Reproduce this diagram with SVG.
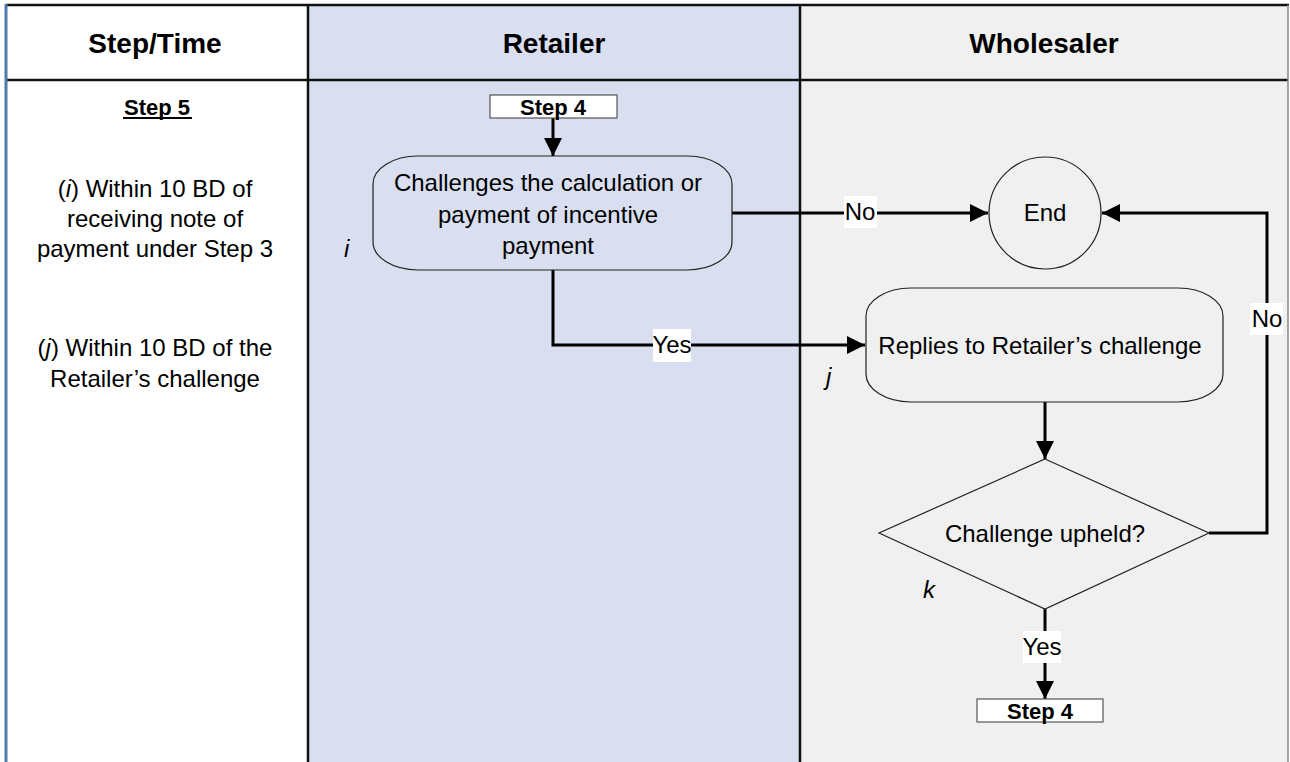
<svg xmlns="http://www.w3.org/2000/svg" width="1290" height="762" viewBox="0 0 1290 762">
<style>
.t{font-family:"Liberation Sans",Arial,sans-serif;font-size:24px;fill:#000;text-anchor:middle}
.h{font-family:"Liberation Sans",Arial,sans-serif;font-size:28px;font-weight:bold;fill:#000;text-anchor:middle}
.b{font-family:"Liberation Sans",Arial,sans-serif;font-size:22px;font-weight:bold;fill:#000;text-anchor:middle}
.it{font-family:"Liberation Sans",Arial,sans-serif;font-size:24px;font-style:italic;fill:#000}
.shape{fill:none;stroke:#222;stroke-width:1.2}
.conn{fill:none;stroke:#000;stroke-width:3}
.lbl{fill:#fff}
.grid{stroke:#111;stroke-width:2.5}
</style>
<defs>
<marker id="arr" viewBox="0 0 10 10" refX="10" refY="5" markerWidth="6.5" markerHeight="6" orient="auto" markerUnits="strokeWidth">
<path d="M0,0 L10,5 L0,10 z" fill="#000"/>
</marker>
</defs>
<g id="lanes">
<rect x="0" y="0" width="1290" height="762" fill="#fff"/>
<rect x="308" y="5" width="492" height="757" fill="#D9DFF1"/>
<rect x="800" y="5" width="488" height="757" fill="#F0F0F0"/>
<line x1="6" y1="5" x2="1289" y2="5" class="grid"/>
<line x1="6" y1="80" x2="1288" y2="80" class="grid"/>
<line x1="308" y1="5" x2="308" y2="762" class="grid"/>
<line x1="800" y1="5" x2="800" y2="762" class="grid"/>
<line x1="1288" y1="5" x2="1288" y2="762" stroke="#888" stroke-width="1.5"/>
<line x1="6" y1="4" x2="6" y2="762" stroke="#4F7BAE" stroke-width="3"/>
<text x="155" y="53" class="h">Step/Time</text>
<text x="554" y="53" class="h">Retailer</text>
<text x="1044" y="53" class="h">Wholesaler</text>
</g>
<g id="timeline">
<text x="157" y="115" class="b">Step 5</text>
<line x1="123" y1="118" x2="192" y2="118" stroke="#000" stroke-width="2"/>
<text x="155" y="197" class="t">(<tspan font-style="italic">i</tspan>) Within 10 BD of</text>
<text x="155" y="227" class="t">receiving note of</text>
<text x="155" y="257" class="t">payment under Step 3</text>
<text x="155" y="356" class="t">(<tspan font-style="italic">j</tspan>) Within 10 BD of the</text>
<text x="155" y="387" class="t">Retailer’s challenge</text>
</g>
<g id="connectors">
<line x1="553" y1="118" x2="553" y2="156" class="conn" marker-end="url(#arr)"/>
<line x1="732" y1="213" x2="988" y2="213" class="conn" marker-end="url(#arr)"/>
<polyline points="553,270 553,345 865,345" class="conn" marker-end="url(#arr)"/>
<line x1="1045" y1="402" x2="1045" y2="459" class="conn" marker-end="url(#arr)"/>
<polyline points="1209,533 1267,533 1267,213 1102,213" class="conn" marker-end="url(#arr)"/>
<line x1="1045" y1="609" x2="1045" y2="699" class="conn" marker-end="url(#arr)"/>
<rect x="844" y="196" width="33" height="32" class="lbl"/>
<text x="860" y="220" class="t">No</text>
<rect x="1250" y="303" width="33" height="32" class="lbl"/>
<text x="1267" y="327" class="t">No</text>
<rect x="653" y="329" width="38" height="33" class="lbl"/>
<text x="672" y="353" class="t">Yes</text>
<rect x="1023" y="631" width="38" height="32" class="lbl"/>
<text x="1042" y="655" class="t">Yes</text>
</g>
<g id="step4-top">
<rect x="490" y="95" width="127" height="23" fill="#fff" stroke="#555" stroke-width="1.2"/>
<text x="553" y="115" class="b">Step 4</text>
</g>
<g id="challenge">
<rect x="373" y="156" width="359" height="114" rx="45" ry="28" class="shape"/>
<text x="548" y="191" class="t">Challenges the calculation or</text>
<text x="548" y="223" class="t">payment of incentive</text>
<text x="548" y="254" class="t">payment</text>
<text x="344" y="257" class="it">i</text>
</g>
<g id="end">
<circle cx="1045" cy="213" r="56" class="shape"/>
<text x="1045" y="221" class="t">End</text>
</g>
<g id="replies">
<rect x="866" y="288" width="357" height="114" rx="45" ry="28" class="shape"/>
<text x="1040" y="354" class="t">Replies to Retailer’s challenge</text>
<text x="826" y="385" class="it">j</text>
</g>
<g id="upheld">
<polygon points="1045,459 1209,533 1045,609 879,533" class="shape"/>
<text x="1045" y="542" class="t">Challenge upheld?</text>
<text x="923" y="598" class="it">k</text>
</g>
<g id="step4-bottom">
<rect x="977" y="699" width="126" height="23" fill="#fff" stroke="#555" stroke-width="1.2"/>
<text x="1040" y="719" class="b">Step 4</text>
</g>
</svg>
